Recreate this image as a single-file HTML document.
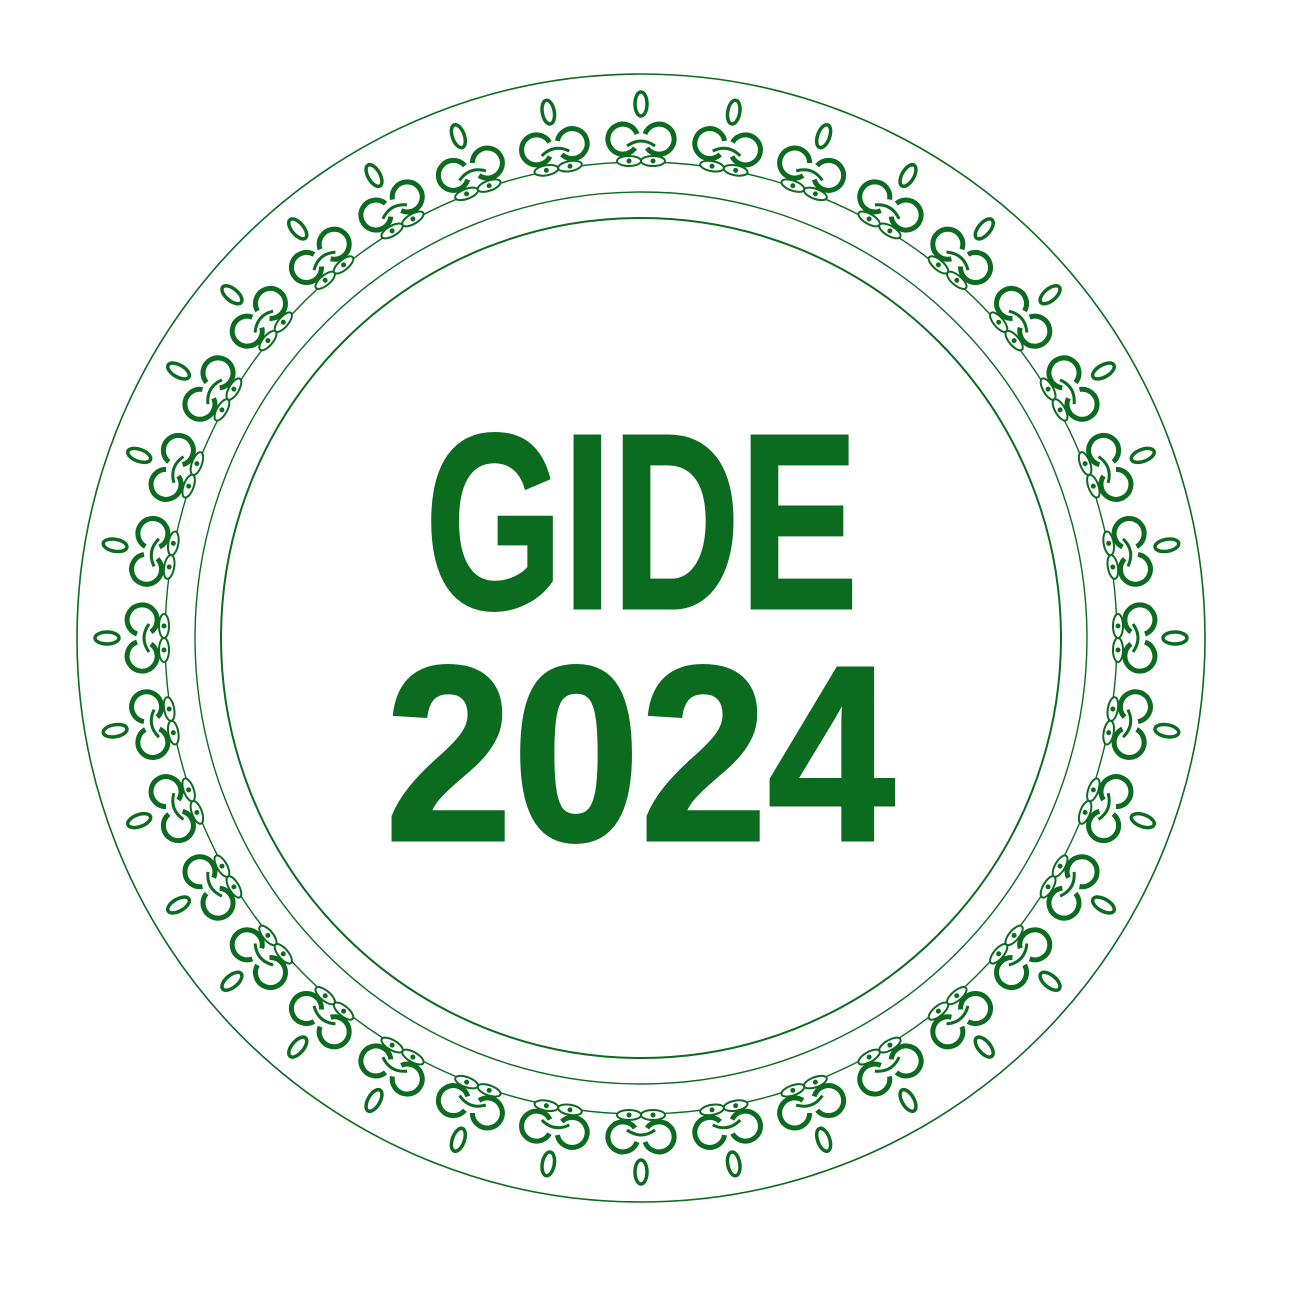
<!DOCTYPE html>
<html><head><meta charset="utf-8"><style>
html,body{margin:0;padding:0;background:#fff;width:1290px;height:1290px;overflow:hidden}
</style></head><body>
<svg id="logo" width="1290" height="1290" viewBox="0 0 1290 1290" xmlns="http://www.w3.org/2000/svg">
<g fill="none" stroke="#0b6b1e">
<circle cx="641" cy="638" r="564" stroke-width="1.6"/>
<circle cx="641" cy="638" r="476" stroke-width="1.4"/>
<circle cx="641" cy="638" r="446" stroke-width="1.4"/>
<circle cx="641" cy="638" r="420" stroke-width="2"/>
</g>
<g id="orn"></g>
<text x="425" y="608" textLength="433" lengthAdjust="spacingAndGlyphs" font-family="Liberation Sans, sans-serif" font-weight="bold" font-size="250" fill="#0b6b1e" stroke="#0b6b1e" stroke-width="3">GIDE</text>
<text x="385" y="840" textLength="510" lengthAdjust="spacingAndGlyphs" font-family="Liberation Sans, sans-serif" font-weight="bold" font-size="250" fill="#0b6b1e" stroke="#0b6b1e" stroke-width="3">2024</text>
</svg>
<script>
const NS='http://www.w3.org/2000/svg';
const g=document.getElementById('orn');
const count=36;
for(let i=0;i<count;i++){
  const a=i*360/count;
  const o=document.createElementNS(NS,'g');
  
  
  o.setAttribute('transform','rotate('+a+' 641 638) translate(641 638)');
  o.innerHTML=
   '<ellipse cx="0" cy="-534" rx="6" ry="12" fill="none" stroke="#0b6b1e" stroke-width="3.5"/>'+
   '<path d="M -6 -490 A 15 15 0 1 1 -4 -504 M 6 -490 A 15 15 0 1 0 4 -504" fill="none" stroke="#0b6b1e" stroke-width="5"/>'+
   '<path d="M -14 -492 Q 0 -502 14 -492" fill="none" stroke="#0b6b1e" stroke-width="3"/>'+
   '<ellipse cx="-12" cy="-477" rx="12" ry="5" fill="#fff" stroke="#0b6b1e" stroke-width="2"/>'+
   '<ellipse cx="12" cy="-477" rx="12" ry="5" fill="#fff" stroke="#0b6b1e" stroke-width="2"/>'+
   '<circle cx="-12" cy="-477" r="2.5" fill="#0b6b1e"/><circle cx="12" cy="-477" r="2.5" fill="#0b6b1e"/>';
  g.appendChild(o);
}
</script>
</body></html>
